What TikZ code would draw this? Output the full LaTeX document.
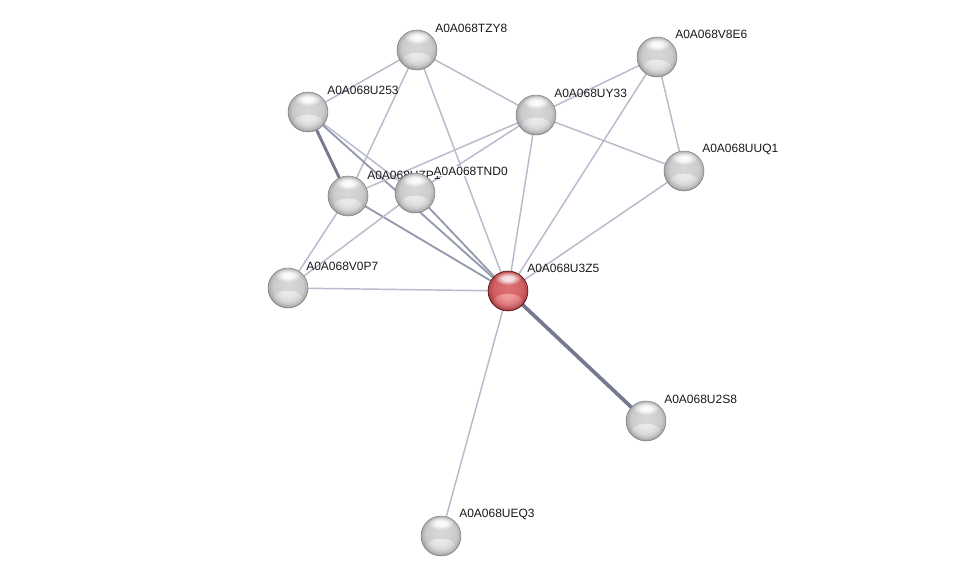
\documentclass[tikz,border=0pt]{standalone}
\usepackage{fontspec}
\setmainfont{Liberation Sans}
\usetikzlibrary{calc,fadings}
\definecolor{edgel}{RGB}{184,187,204}
\definecolor{edged}{RGB}{118,122,145}
\definecolor{edgem}{RGB}{150,154,175}
\definecolor{gA}{RGB}{216,216,216}
\definecolor{gB}{RGB}{209,209,209}
\definecolor{gC}{RGB}{202,202,202}
\definecolor{gD}{RGB}{175,175,175}
\definecolor{gE}{RGB}{125,125,125}
\definecolor{rA}{RGB}{222,112,116}
\definecolor{rB}{RGB}{214,102,106}
\definecolor{rC}{RGB}{205,94,98}
\definecolor{rD}{RGB}{178,70,74}
\definecolor{rE}{RGB}{120,35,38}
\definecolor{rGlow}{RGB}{255,190,190}
\pgfdeclareradialshading{graysphere}{\pgfpoint{0bp}{4bp}}{color(0bp)=(gA); color(12bp)=(gB); color(19bp)=(gC); color(24bp)=(gD); color(29bp)=(gE); color(50bp)=(gE)}
\pgfdeclareradialshading{redsphere}{\pgfpoint{0bp}{4bp}}{color(0bp)=(rA); color(12bp)=(rB); color(19bp)=(rC); color(24bp)=(rD); color(29bp)=(rE); color(50bp)=(rE)}
\pgfdeclareradialshading{softspotshade}{\pgfpointorigin}{color(0bp)=(pgftransparent!0); color(10bp)=(pgftransparent!10); color(25bp)=(pgftransparent!100); color(50bp)=(pgftransparent!100)}
\pgfdeclarefading{softspot}{\pgfuseshading{softspotshade}}
\begin{document}
\begin{tikzpicture}[x=0.75pt,y=-0.75pt,
  ball/.style={circle,inner sep=0pt,minimum size=30pt,shading=graysphere,draw=black!50,line width=0.4pt,
    path picture={
      \fill[white,opacity=0.55,path fading=softspot] ([yshift=-8pt]path picture bounding box.center) ellipse [x radius=11pt,y radius=6pt];
      \fill[white,opacity=0.95,path fading=softspot] ([yshift=9.5pt]path picture bounding box.center) ellipse [x radius=10pt,y radius=5pt];
    }},
  redball/.style={circle,inner sep=0pt,minimum size=30pt,shading=redsphere,draw=red!30!black,line width=0.4pt,
    path picture={
      \fill[rGlow,opacity=0.6,path fading=softspot] ([yshift=-8pt]path picture bounding box.center) ellipse [x radius=11pt,y radius=6pt];
      \fill[white,opacity=0.85,path fading=softspot] ([yshift=9.5pt]path picture bounding box.center) ellipse [x radius=10pt,y radius=5pt];
    }},
  lbl/.style={anchor=west,inner sep=0pt,font=\fontsize{9}{10}\selectfont,text=black!90},
  ed/.style={draw=edgel,line width=1.1pt},
  edm/.style={draw=edgem,line width=1.4pt},
  edd/.style={draw=edged,line width=2.2pt},
  edt/.style={draw=edged,line width=2.8pt}]
\useasboundingbox (0,0) rectangle (976,582);
% node positions
\coordinate (tzy8) at (417,50);
\coordinate (v8e6) at (657,57);
\coordinate (u253) at (308,112);
\coordinate (uy33) at (536,115);
\coordinate (uuq1) at (684,171);
\coordinate (uzp) at (348,196);
\coordinate (tnd0) at (415,193);
\coordinate (v0p7) at (288,288);
\coordinate (u3z5) at (508,291);
\coordinate (u2s8) at (646,421);
\coordinate (ueq3) at (441,536);
% edges
\draw[ed] (tzy8) -- (u253);
\draw[ed] (tzy8) -- (uy33);
\draw[ed] (tzy8) -- (uzp);
\draw[ed] (tzy8) -- (u3z5);
\draw[edd] (u253) -- (uzp);
\draw[ed] (u253) -- (tnd0);
\draw[edm] (u253) -- (u3z5);
\draw[ed] (uy33) -- (v8e6);
\draw[ed] (uy33) -- (uuq1);
\draw[ed] (uy33) -- (u3z5);
\draw[ed] (uy33) -- (uzp);
\draw[ed] (uy33) -- (tnd0);
\draw[ed] (v8e6) -- (uuq1);
\draw[ed] (v8e6) -- (u3z5);
\draw[ed] (uuq1) -- (u3z5);
\draw[ed] (uzp) -- (v0p7);
\draw[edm] (uzp) -- (u3z5);
\draw[ed] (tnd0) -- (v0p7);
\draw[edm] (tnd0) -- (u3z5);
\draw[ed] (v0p7) -- (u3z5);
\draw[edt] (u3z5) -- (u2s8);
\draw[ed] (u3z5) -- (ueq3);
% nodes and labels
\node[ball] (n-tzy8) at (tzy8) {};
\node[lbl] (l-tzy8) at ($(tzy8)+(18,-22)$) {A0A068TZY8};
\node[ball] (n-v8e6) at (v8e6) {};
\node[lbl] (l-v8e6) at ($(v8e6)+(18,-23)$) {A0A068V8E6};
\node[ball] (n-u253) at (u253) {};
\node[lbl] (l-u253) at ($(u253)+(19,-22)$) {A0A068U253};
\node[ball] (n-uy33) at (uy33) {};
\node[lbl] (l-uy33) at ($(uy33)+(18,-22)$) {A0A068UY33};
\node[ball] (n-uuq1) at (uuq1) {};
\node[lbl] (l-uuq1) at ($(uuq1)+(18,-22)$) {A0A068UUQ1};
\node[ball] (n-v0p7) at (v0p7) {};
\node[lbl] (l-v0p7) at ($(v0p7)+(18,-22)$) {A0A068V0P7};
\node[ball] (n-uzp) at (uzp) {};
\node[lbl] (l-uzp) at ($(uzp)+(19,-21)$) {A0A068UZP1};
\node[ball] (n-tnd0) at (tnd0) {};
\node[lbl,fill=white,inner sep=0.3pt] (l-tnd0) at ($(tnd0)+(18,-22)$) {A0A068TND0};
\node[redball] (n-u3z5) at (u3z5) {};
\node[lbl] (l-u3z5) at ($(u3z5)+(19,-23)$) {A0A068U3Z5};
\node[ball] (n-u2s8) at (u2s8) {};
\node[lbl] (l-u2s8) at ($(u2s8)+(18,-22)$) {A0A068U2S8};
\node[ball] (n-ueq3) at (ueq3) {};
\node[lbl] (l-ueq3) at ($(ueq3)+(18,-22)$) {A0A068UEQ3};
\end{tikzpicture}
\end{document}
